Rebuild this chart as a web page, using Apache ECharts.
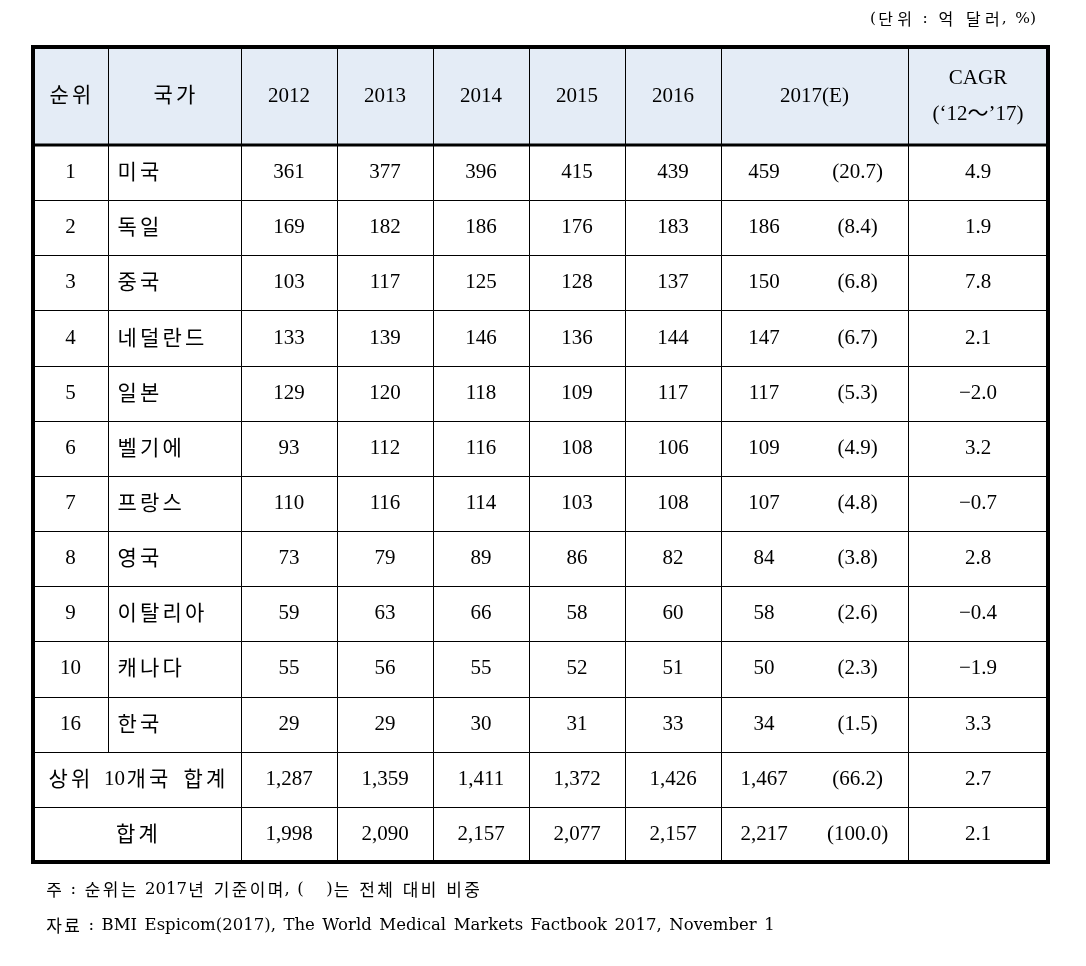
<!DOCTYPE html>
<html><head><meta charset="utf-8">
<script src="https://cdn.jsdelivr.net/npm/echarts@6/dist/echarts.min.js"></script>
<style>html,body{margin:0;padding:0;background:#fff}#c{width:1086px;height:966px}</style>
</head><body><div id="c"></div>
<script>
// ---------- data ----------
const headers = ['순위', '국가', '2012', '2013', '2014', '2015', '2016', '2017(E)', 'CAGR\n(‘12～’17)'];
const ranks = ['1', '2', '3', '4', '5', '6', '7', '8', '9', '10', '16'];
const countries = ['미국', '독일', '중국', '네덜란드', '일본', '벨기에', '프랑스', '영국', '이탈리아', '캐나다', '한국'];
const totalLabels = ['상위 10개국 합계', '합계'];
const v2012 = [361, 169, 103, 133, 129, 93, 110, 73, 59, 55, 29, 1287, 1998];
const v2013 = [377, 182, 117, 139, 120, 112, 116, 79, 63, 56, 29, 1359, 2090];
const v2014 = [396, 186, 125, 146, 118, 116, 114, 89, 66, 55, 30, 1411, 2157];
const v2015 = [415, 176, 128, 136, 109, 108, 103, 86, 58, 52, 31, 1372, 2077];
const v2016 = [439, 183, 137, 144, 117, 106, 108, 82, 60, 51, 33, 1426, 2157];
const v2017 = [459, 186, 150, 147, 117, 109, 107, 84, 58, 50, 34, 1467, 2217];
const share2017 = [20.7, 8.4, 6.8, 6.7, 5.3, 4.9, 4.8, 3.8, 2.6, 2.3, 1.5, 66.2, 100.0];
const cagr = [4.9, 1.9, 7.8, 2.1, -2.0, 3.2, -0.7, 2.8, -0.4, -1.9, 3.3, 2.7, 2.1];
const unitNote = '(단위 : 억 달러, %)';
const note1 = '주 : 순위는 2017년 기준이며, (   )는 전체 대비 비중';
const note2 = '자료 : BMI Espicom(2017), The World Medical Markets Factbook 2017, November 1';

// ---------- layout ----------
const colW = [75, 133, 96, 96, 96, 96, 96, 187, 140];
const headerH = 98;
const rowH = 55.15;
const nRows = v2012.length;
const colEdge = [0];
colW.forEach(w => colEdge.push(colEdge[colEdge.length - 1] + w));
const rowEdge = [0, headerH];
for (let i = 0; i < nRows; i++) rowEdge.push(headerH + rowH * (i + 1));
const totalW = colEdge[colEdge.length - 1];
const totalH = rowEdge[rowEdge.length - 1];

const FONT = '"Liberation Serif","Noto Sans CJK KR",serif';
const NOTE_FONT = '"DejaVu Serif","Noto Sans CJK KR",serif';
const KFONT = '"Noto Sans CJK KR",sans-serif';
const HEADER_BG = '#E4ECF6';

const fmtInt = v => v.toLocaleString('en-US');
const fmt1 = v => (v < 0 ? '−' : '') + Math.abs(v).toFixed(1);

// wrap Hangul syllables / spaces into fixed-width rich tokens (emulates the wide Batang spacing)
function spaced(str, key) {
  if (!/[\uAC00-\uD7A3]/.test(str) && key === 'h') return str;
  let out = '', buf = '';
  for (const ch of str) {
    if (/[\uAC00-\uD7A3]/.test(ch)) { out += buf; buf = ''; out += '{' + key + '|' + ch + '}'; }
    else if (ch === ' ') { out += buf; buf = ''; out += '{' + key + 's| }'; }
    else buf += ch;
  }
  return out + buf;
}

const cells = [];
headers.forEach((h, i) => cells.push({c0: i, c1: i + 1, r: 0, fill: HEADER_BG, texts: [{text: h, pos: 0.5}]}));
const yearCols = [v2012, v2013, v2014, v2015, v2016];
for (let j = 0; j < nRows; j++) {
  const r = j + 1;
  if (j < ranks.length) {
    cells.push({c0: 0, c1: 1, r, texts: [{text: ranks[j], pos: 0.5}]});
    cells.push({c0: 1, c1: 2, r, texts: [{text: countries[j], pos: 'left'}]});
  } else {
    cells.push({c0: 0, c1: 2, r, texts: [{text: totalLabels[j - ranks.length], pos: 0.5}]});
  }
  yearCols.forEach((arr, k) => cells.push({c0: 2 + k, c1: 3 + k, r, texts: [{text: fmtInt(arr[j]), pos: 0.5}]}));
  cells.push({c0: 7, c1: 8, r, texts: [
    {text: fmtInt(v2017[j]), pos: 0.23},
    {text: '(' + share2017[j].toFixed(1) + ')', pos: 0.73}
  ]});
  cells.push({c0: 8, c1: 9, r, texts: [{text: fmt1(cagr[j]), pos: 0.5}]});
}

const crisp = v => Math.round(v) + 0.5;
const tableRich = {
  h: {width: 22.5, align: 'center', verticalAlign: 'middle', fontFamily: KFONT, fontSize: 21, lineHeight: 36, padding: [0, 0, 3, 0]},
  hs: {width: 12, fontSize: 21, lineHeight: 36}
};
const noteRich = {
  f: {width: 18, align: 'center', fontFamily: KFONT, fontSize: 17},
  fs: {width: 7.5, fontSize: 16.5}
};
const unitRich = {
  u: {width: 19, align: 'center', fontFamily: KFONT, fontSize: 16},
  us: {width: 8.5, fontSize: 15.5}
};

const chart = echarts.init(document.getElementById('c'), null, {renderer: 'canvas'});
chart.setOption({
  animation: false,
  backgroundColor: '#fff',
  title: [
    {text: spaced(unitNote, 'u'), right: 50, top: 11, padding: 0,
      textStyle: {fontFamily: NOTE_FONT, fontSize: 15.5, fontWeight: 'normal', color: '#000', rich: unitRich}},
    {text: spaced(note1, 'f'), left: 45, top: 881, padding: 0,
      textStyle: {fontFamily: NOTE_FONT, fontSize: 16.5, fontWeight: 'normal', color: '#000', rich: noteRich}},
    {text: spaced(note2, 'f'), left: 45, top: 917, padding: 0,
      textStyle: {fontFamily: NOTE_FONT, fontSize: 16.5, fontWeight: 'normal', color: '#000', rich: noteRich}}
  ],
  grid: {left: 33, top: 47, width: totalW, height: totalH, show: false},
  xAxis: {type: 'value', min: 0, max: totalW, show: false},
  yAxis: {type: 'value', min: 0, max: totalH, inverse: true, show: false},
  series: [
    {
      type: 'custom',
      coordinateSystem: 'cartesian2d',
      data: cells.map((c, i) => [colEdge[c.c0], rowEdge[c.r], colEdge[c.c1], rowEdge[c.r + 1], i]),
      renderItem: function (params, api) {
        const c = cells[params.dataIndex];
        const p0 = api.coord([api.value(0), api.value(1)]);
        const p1 = api.coord([api.value(2), api.value(3)]);
        const x0 = crisp(p0[0]), y0 = crisp(p0[1]), x1 = crisp(p1[0]), y1 = crisp(p1[1]);
        const children = [{
          type: 'rect',
          shape: {x: x0, y: y0, width: x1 - x0, height: y1 - y0},
          style: {fill: c.fill || '#fff', stroke: '#000', lineWidth: 1}
        }];
        const cy = (p0[1] + p1[1]) / 2;
        c.texts.forEach(t => {
          const isLeft = t.pos === 'left';
          children.push({
            type: 'text',
            style: {
              text: spaced(t.text, 'h'),
              rich: tableRich,
              x: isLeft ? p0[0] + 8 : p0[0] + (p1[0] - p0[0]) * t.pos,
              y: cy,
              align: isLeft ? 'left' : 'center',
              verticalAlign: 'middle',
              fontFamily: FONT,
              fontSize: 21,
              lineHeight: 36,
              fill: '#000'
            }
          });
        });
        return {type: 'group', children};
      },
      z: 2
    },
    {
      type: 'custom',
      coordinateSystem: 'cartesian2d',
      data: [[0, 0, totalW, totalH, headerH]],
      renderItem: function (params, api) {
        const p0 = api.coord([api.value(0), api.value(1)]);
        const p1 = api.coord([api.value(2), api.value(3)]);
        const ph = api.coord([api.value(0), api.value(4)]);
        return {type: 'group', children: [
          {type: 'line', shape: {x1: p0[0], y1: ph[1], x2: p1[0], y2: ph[1]}, style: {stroke: '#000', lineWidth: 3}},
          {type: 'rect', shape: {x: p0[0], y: p0[1], width: p1[0] - p0[0], height: p1[1] - p0[1]}, style: {fill: null, stroke: '#000', lineWidth: 4}}
        ]};
      },
      z: 3
    }
  ]
});
</script>
</body></html>
